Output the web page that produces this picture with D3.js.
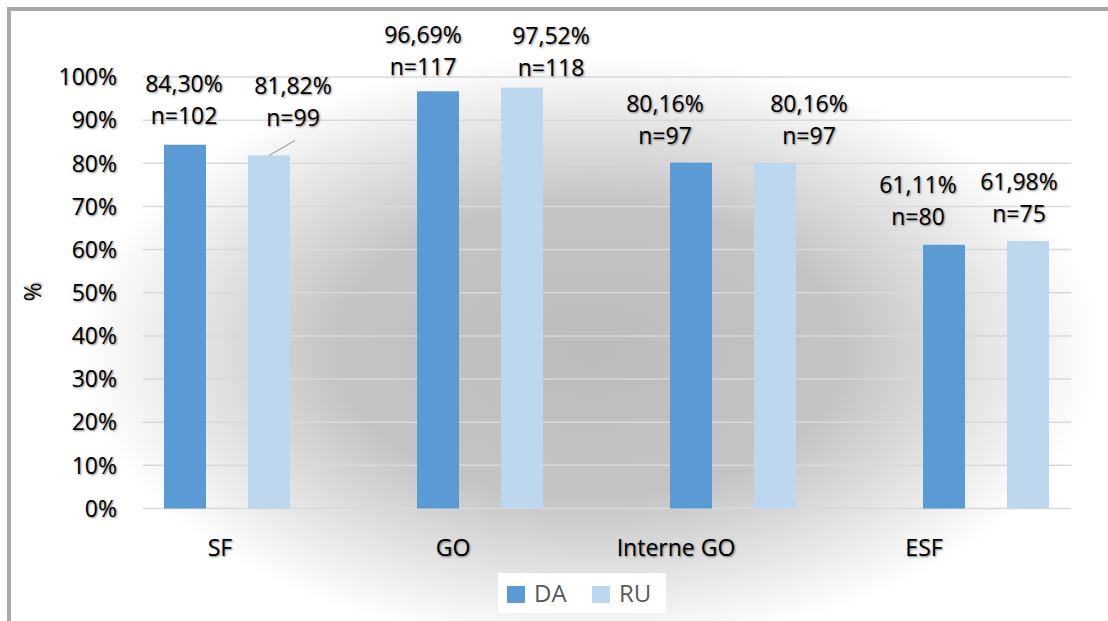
<!DOCTYPE html>
<html>
<head>
<meta charset="utf-8">
<style>
body { margin: 0; background: #fff; }
svg text { font-family: "Open Sans", sans-serif; }
.shadow { text-shadow: 1px 1px 2px rgba(0,0,0,0.5); }
</style>
</head>
<body>
<svg width="1108" height="621" class="chart"></svg>
<script src="https://d3js.org/d3.v7.min.js"></script>
<script>

var categories = ["SF", "GO", "Interne GO", "ESF"];
var series = ["DA", "RU"];
var daPct = [84.30, 96.69, 80.16, 61.11];
var ruPct = [81.82, 97.52, 80.16, 61.98];
var daN = [102, 117, 97, 80];
var ruN = [99, 118, 97, 75];
var yTicks = [0, 10, 20, 30, 40, 50, 60, 70, 80, 90, 100];

var colors = {DA: "#5b9bd5", RU: "#bdd7ee"};

// hand placed data labels in the original (dx from bar centre, gap above bar top)
var labelNudge = {
  DA: [[-1, 21], [-15, 16], [-26, 19], [-26, 20]],
  RU: [[24, 29], [29, 12], [34, 19], [-9, 19]]
};
var catLabelNudge = [-7, -27, -57, -62];

var svg = d3.select(".chart"),
    W = +svg.attr("width"), H = +svg.attr("height");

var defs = svg.append("defs");
var grad = defs.append("radialGradient")
    .attr("id", "bg")
    .attr("gradientUnits", "userSpaceOnUse")
    .attr("cx", 590).attr("cy", 350).attr("r", 510)
    .attr("gradientTransform", "translate(590,350) scale(1,0.58) translate(-590,-350)");
grad.append("stop").attr("offset", 0).attr("stop-color", "#bcbcbc");
grad.append("stop").attr("offset", 0.5).attr("stop-color", "#c4c4c4");
grad.append("stop").attr("offset", 0.82).attr("stop-color", "#eaeaea");
grad.append("stop").attr("offset", 1).attr("stop-color", "#ffffff");

svg.append("rect").attr("width", W).attr("height", H).attr("fill", "#fff");
svg.append("rect").attr("x", 9).attr("y", 9).attr("width", W).attr("height", H)
    .attr("fill", "url(#bg)");

var x0 = d3.scaleBand().domain(categories).range([100.5, 1112.5]);
var x1 = d3.scaleBand().domain(series).range([-63, 63]).paddingInner(0.5);
var y = d3.scaleLinear().domain([0, 100]).range([508.5, 77]);
var gridLeft = 143, gridRight = 1071;

// gridlines
svg.append("g").selectAll("line").data(yTicks).enter().append("line")
    .attr("x1", gridLeft).attr("x2", gridRight)
    .attr("y1", function(d) { return y(d); })
    .attr("y2", function(d) { return y(d); })
    .attr("stroke", "#d9d9d9")
    .attr("stroke-width", 1.5);

// y tick labels
svg.append("g").attr("class", "shadow").selectAll("text").data(yTicks).enter().append("text")
    .attr("x", 117)
    .attr("y", function(d) { return y(d); })
    .attr("dy", "0.36em")
    .attr("text-anchor", "end")
    .attr("font-size", 23)
    .attr("fill", "#000")
    .text(function(d) { return d + "%"; });

svg.append("text")
    .attr("class", "shadow")
    .attr("transform", "translate(41,292) rotate(-90)")
    .attr("text-anchor", "middle")
    .attr("font-size", 23)
    .text("%");

var rows = [];
categories.forEach(function(c, i) {
  rows.push({cat: c, i: i, key: "DA", pct: daPct[i], n: daN[i]});
  rows.push({cat: c, i: i, key: "RU", pct: ruPct[i], n: ruN[i]});
});

function cx(d) { return x0(d.cat) + x0.bandwidth() / 2 + x1(d.key) + x1.bandwidth() / 2; }

svg.append("g").selectAll("rect").data(rows).enter().append("rect")
    .attr("x", function(d) { return cx(d) - x1.bandwidth() / 2; })
    .attr("y", function(d) { return y(d.pct); })
    .attr("width", x1.bandwidth())
    .attr("height", function(d) { return y(0) - y(d.pct); })
    .attr("fill", function(d) { return colors[d.key]; });

var fmt = d3.format(".2f");
var labels = svg.append("g").attr("class", "shadow").selectAll("g").data(rows).enter().append("g")
    .attr("transform", function(d) {
      var nd = labelNudge[d.key][d.i];
      return "translate(" + (cx(d) + nd[0]) + "," + (y(d.pct) - nd[1]) + ")";
    });
labels.append("text")
    .attr("y", -32)
    .attr("text-anchor", "middle")
    .attr("font-size", 23)
    .text(function(d) { return fmt(d.pct).replace(".", ",") + "%"; });
labels.append("text")
    .attr("text-anchor", "middle")
    .attr("font-size", 23)
    .text(function(d) { return "n=" + d.n; });

// leader line for the moved SF / RU label
var moved = rows[1];
svg.append("line")
    .attr("x1", cx(moved)).attr("y1", y(moved.pct))
    .attr("x2", cx(moved) + 26).attr("y2", y(moved.pct) - 15)
    .attr("stroke", "#a6a6a6").attr("stroke-width", 1.2);

// category labels
svg.append("g").attr("class", "shadow").selectAll("text").data(categories).enter().append("text")
    .attr("x", function(d, i) { return x0(d) + x0.bandwidth() / 2 + catLabelNudge[i]; })
    .attr("y", 556)
    .attr("text-anchor", "middle")
    .attr("font-size", 23)
    .text(function(d) { return d; });

// legend
var legend = svg.append("g");
legend.append("rect").attr("x", 498).attr("y", 573).attr("width", 168).attr("height", 40)
    .attr("fill", "#fff");
var li = legend.selectAll("g").data(series).enter().append("g")
    .attr("transform", function(d, i) { return "translate(" + (507 + i * 85) + ",0)"; });
li.append("rect").attr("y", 586).attr("width", 18).attr("height", 17)
    .attr("fill", function(d) { return colors[d]; });
li.append("text").attr("x", 27).attr("y", 602)
    .attr("font-size", 24).attr("fill", "#595959")
    .text(function(d) { return d; });

// outer frame
svg.append("rect").attr("x", 9).attr("y", 9).attr("width", W + 20).attr("height", H + 20)
    .attr("fill", "none").attr("stroke", "#aca8a8").attr("stroke-width", 4);

</script>
</body>
</html>
